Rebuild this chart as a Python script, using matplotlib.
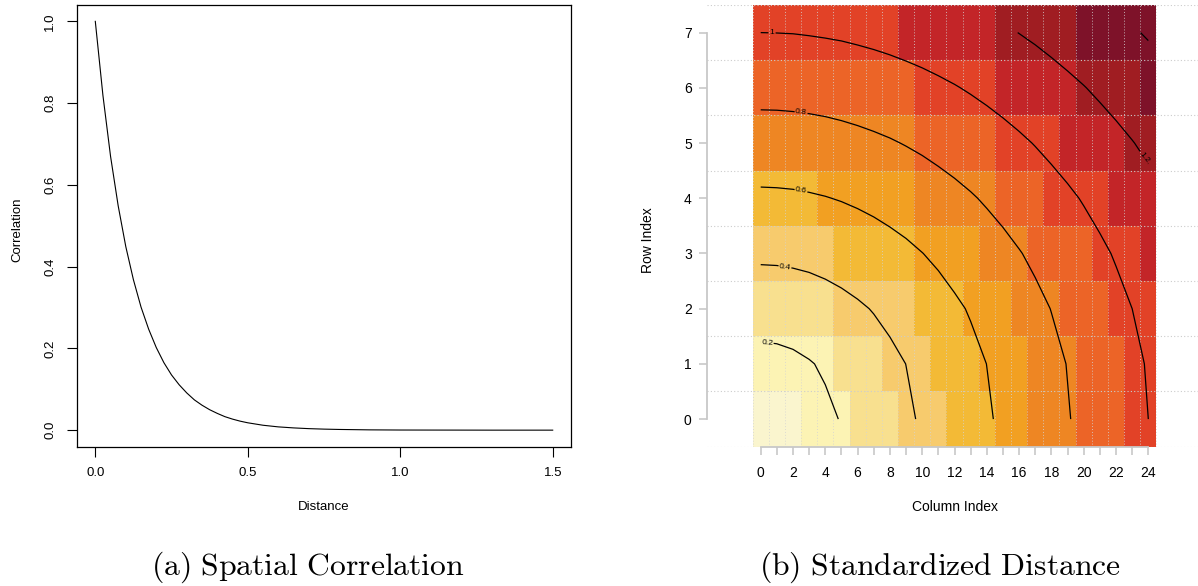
import numpy as np
import matplotlib
matplotlib.use('Agg')
import matplotlib.pyplot as plt
from matplotlib.colors import ListedColormap, BoundaryNorm

plt.rcParams['font.family'] = ['Liberation Sans', 'DejaVu Sans']
plt.rcParams['mathtext.fontset'] = 'cm'

# (a) correlation curve
distance = [0.0, 0.025, 0.05, 0.075, 0.1, 0.125, 0.15, 0.175, 0.2, 0.225, 0.25,
            0.275, 0.3, 0.325, 0.35, 0.375, 0.4, 0.425, 0.45, 0.475, 0.5,
            0.55, 0.6, 0.65, 0.7, 0.75, 0.8, 0.9, 1.0, 1.1, 1.2, 1.3, 1.4, 1.5]
correlation = [1.0, 0.819, 0.670, 0.549, 0.449, 0.368, 0.301, 0.247, 0.202, 0.165, 0.135,
               0.111, 0.091, 0.074, 0.061, 0.050, 0.041, 0.033, 0.027, 0.022, 0.018,
               0.012, 0.008, 0.0055, 0.0037, 0.0025, 0.0017, 0.0007, 0.0003, 0.0002, 0.0001, 0.0, 0.0, 0.0]

# (b) standardized distance of each cell, rows 0..7, columns 0..24
col_index = list(range(25))
row_index = list(range(8))
row0 = [0.000, 0.042, 0.083, 0.125, 0.167, 0.208, 0.250, 0.292, 0.333, 0.375, 0.417, 0.458, 0.500,
        0.542, 0.583, 0.625, 0.667, 0.708, 0.750, 0.792, 0.833, 0.875, 0.917, 0.958, 1.000]
row1 = [0.143, 0.149, 0.165, 0.190, 0.220, 0.253, 0.288, 0.325, 0.363, 0.401, 0.440, 0.480, 0.520,
        0.560, 0.601, 0.641, 0.682, 0.723, 0.763, 0.804, 0.845, 0.887, 0.928, 0.969, 1.010]
row2 = [0.286, 0.289, 0.298, 0.312, 0.331, 0.354, 0.380, 0.408, 0.439, 0.471, 0.505, 0.540, 0.576,
        0.612, 0.650, 0.687, 0.725, 0.764, 0.803, 0.842, 0.881, 0.920, 0.960, 1.000, 1.040]
row3 = [0.429, 0.431, 0.437, 0.446, 0.460, 0.477, 0.496, 0.518, 0.543, 0.569, 0.598, 0.627, 0.659,
        0.691, 0.724, 0.758, 0.793, 0.828, 0.864, 0.900, 0.937, 0.974, 1.012, 1.050, 1.088]
row4 = [0.571, 0.573, 0.577, 0.585, 0.595, 0.608, 0.624, 0.642, 0.662, 0.683, 0.707, 0.733, 0.759,
        0.787, 0.817, 0.847, 0.878, 0.910, 0.943, 0.976, 1.010, 1.045, 1.080, 1.116, 1.152]
row5 = [0.714, 0.715, 0.719, 0.725, 0.733, 0.744, 0.757, 0.772, 0.788, 0.807, 0.827, 0.849, 0.872,
        0.896, 0.922, 0.949, 0.977, 1.006, 1.036, 1.066, 1.098, 1.130, 1.162, 1.195, 1.229]
row6 = [0.857, 0.858, 0.861, 0.866, 0.873, 0.882, 0.893, 0.905, 0.920, 0.936, 0.953, 0.972, 0.992,
        1.014, 1.037, 1.061, 1.086, 1.112, 1.139, 1.167, 1.195, 1.225, 1.255, 1.286, 1.317]
row7 = [1.000, 1.001, 1.003, 1.008, 1.014, 1.021, 1.031, 1.042, 1.054, 1.068, 1.083, 1.100, 1.118,
        1.137, 1.158, 1.179, 1.202, 1.225, 1.250, 1.275, 1.302, 1.329, 1.357, 1.385, 1.414]
contour_levels = [0.2, 0.4, 0.6, 0.8, 1.0, 1.2, 1.4]
label_text = {0.2: '0.2', 0.4: '0.4', 0.6: '0.6', 0.8: '0.8', 1.0: '1', 1.2: '1.2'}
heat_colors = ['#FAF5CE', '#FCF3B4', '#F8E08F', '#F7CB6D', '#F3BA36', '#F2A022',
               '#EE8623', '#EC6427', '#E24227', '#C32528', '#A01D22', '#7E1229']

std_dist = np.array([row0, row1, row2, row3, row4, row5, row6, row7])

W, H = 1198, 586
fig = plt.figure(figsize=(W / 100, H / 100), dpi=100)

# ---- left panel
ax = fig.add_axes([77 / W, 1 - 446.5 / H, 494 / W, 441.5 / H])
ax.plot(distance, correlation, color='black', lw=0.8)
ax.set_xlim(-0.06, 1.56)
ax.set_ylim(-0.04, 1.04)
ax.set_xticks([0, 0.5, 1.0, 1.5])
ax.set_xticklabels(['0.0', '0.5', '1.0', '1.5'])
ax.set_yticks([0, 0.2, 0.4, 0.6, 0.8, 1.0])
ax.set_yticklabels(['0.0', '0.2', '0.4', '0.6', '0.8', '1.0'], rotation=90, va='center')
ax.tick_params(length=7, width=0.8, pad=8, labelsize=9.5)
for s in ax.spines.values():
    s.set_linewidth(0.9)
fig.text(324 / W, 1 - 507 / H, 'Distance', ha='center', va='center', size=9.5)
fig.text(17 / W, 1 - 230 / H, 'Correlation', ha='center', va='center', size=9.5, rotation=90)

# ---- right panel
ax2 = fig.add_axes([707 / W, 1 - 446.7 / H, (W - 707) / W, 441.7 / H])
bounds = np.linspace(0, std_dist.max(), len(heat_colors) + 1)
ax2.pcolormesh(np.arange(-0.5, 25), np.arange(-0.5, 8), std_dist,
               cmap=ListedColormap(heat_colors), norm=BoundaryNorm(bounds, len(heat_colors)),
               antialiased=False, edgecolors='face', linewidth=0, zorder=1)
for y in np.arange(-0.5, 8):
    ax2.axhline(y, color='#cccccc', ls=(0, (1, 2)), lw=0.8, zorder=2)
ax2.vlines(np.arange(-0.5, 25), -0.5, 7.5, color='#d4d4d4', ls=(0, (1, 2)), lw=0.7, alpha=0.8, zorder=2)
cs = ax2.contour(col_index, row_index, std_dist, levels=contour_levels,
                 colors='black', linewidths=0.9, zorder=3)
ax2.clabel(cs, levels=contour_levels[:-1], manual=[(0.4, 1.38), (1.5, 2.75), (2.5, 4.15),
                                                   (2.5, 5.55), (0.7, 7.0), (23.6, 4.7)],
           fmt=label_text, fontsize=6, inline=True, inline_spacing=2)
ax2.set_xlim(-3.325, 27.077)
ax2.set_ylim(-0.5, 7.5)
ax2.spines['top'].set_visible(False)
ax2.spines['right'].set_visible(False)
ax2.spines['left'].set_bounds(0, 7)
ax2.spines['bottom'].set_bounds(0, 24)
for s in ('left', 'bottom'):
    ax2.spines[s].set_color('#c8c8c8')
    ax2.spines[s].set_linewidth(1.3)
ax2.set_xticks(col_index)
ax2.set_xticklabels([str(c) if c % 2 == 0 else '' for c in col_index])
ax2.set_yticks(row_index)
ax2.tick_params(axis='both', color='#c8c8c8', labelcolor='black', length=6, width=1.2, labelsize=10)
ax2.tick_params(axis='x', pad=8)
ax2.tick_params(axis='y', pad=5)
fig.text(955 / W, 1 - 507 / H, 'Column Index', ha='center', va='center', size=10)
fig.text(648 / W, 1 - 240 / H, 'Row Index', ha='center', va='center', size=10, rotation=90)

# captions
fig.text(308 / W, 1 - 567 / H, r'$\mathrm{(a)\ Spatial\ Correlation}$', ha='center', va='center', size=22.8)
fig.text(940 / W, 1 - 567 / H, r'$\mathrm{(b)\ Standardized\ Distance}$', ha='center', va='center', size=22.8)

fig.savefig('out.png', dpi=100)
